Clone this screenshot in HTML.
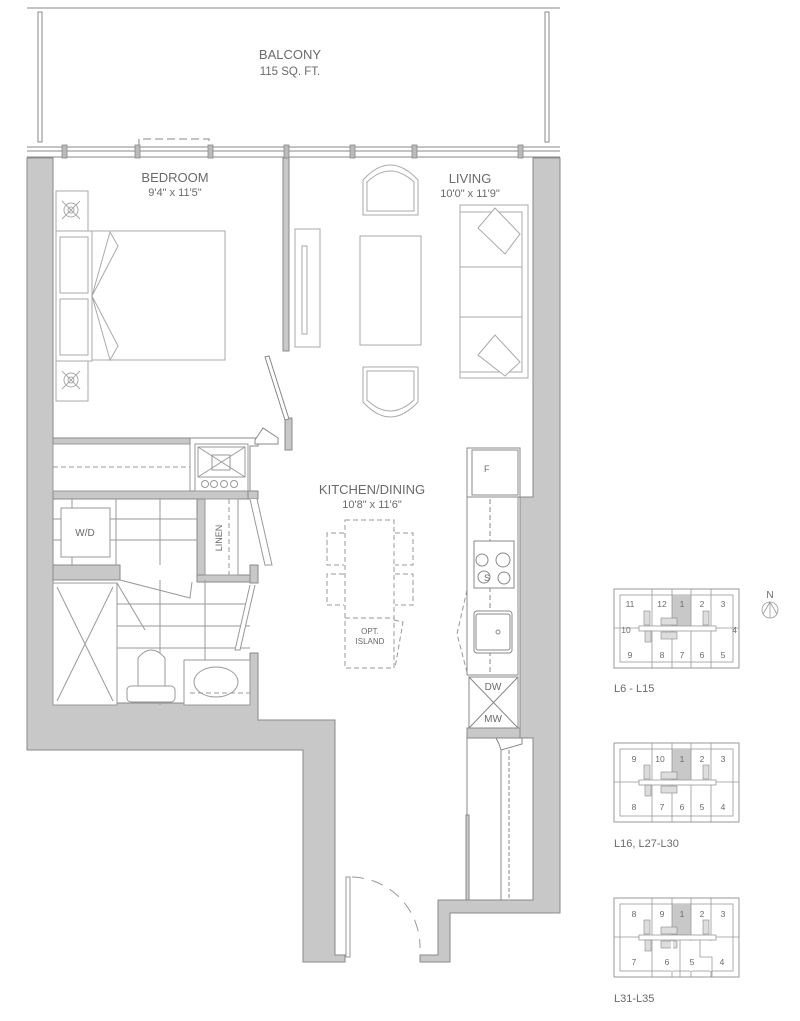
<!DOCTYPE html>
<html><head><meta charset="utf-8"><style>
html,body{margin:0;padding:0;background:#fff}
svg{display:block}
text{font-family:"Liberation Sans",sans-serif;fill:#6a6a6a}
</style></head><body>
<svg width="800" height="1021" viewBox="0 0 800 1021" xmlns="http://www.w3.org/2000/svg">
<defs>
<g id="kp">
 <rect x="0" y="0" width="125" height="79" fill="#fff" stroke="#999" stroke-width="1"/>
 <rect x="6" y="6" width="113" height="67" fill="none" stroke="#999" stroke-width="0.8"/>
 <rect x="58" y="6" width="19" height="31" fill="#c8c8c8"/>
 <g stroke="#999" stroke-width="0.8">
 <line x1="38" y1="0" x2="38" y2="79"/><line x1="58" y1="0" x2="58" y2="79"/>
 <line x1="77" y1="0" x2="77" y2="79"/><line x1="97" y1="0" x2="97" y2="79"/>
 <line x1="0" y1="39" x2="125" y2="39"/></g>
 <rect x="25" y="37" width="77" height="5" fill="#fff" stroke="#999" stroke-width="0.8"/>
 <rect x="30" y="22" width="6" height="14" fill="#ddd" stroke="#888" stroke-width="0.6"/>
 <rect x="31" y="42" width="6" height="11" fill="#ddd" stroke="#888" stroke-width="0.6"/>
 <rect x="47" y="29" width="16" height="7" fill="#ddd" stroke="#888" stroke-width="0.6"/>
 <rect x="47" y="43" width="16" height="7" fill="#ddd" stroke="#888" stroke-width="0.6"/>
 <rect x="89" y="22" width="6" height="14" fill="#ddd" stroke="#888" stroke-width="0.6"/>
</g>
</defs>

<g stroke="#8a8a8a" fill="none" stroke-width="1">
 <line x1="27" y1="8" x2="560" y2="8"/>
 <rect x="38" y="12" width="4" height="130"/>
 <rect x="545" y="12" width="4" height="130"/>
 <line x1="27" y1="147" x2="560" y2="147"/>
 <line x1="27" y1="151" x2="560" y2="151"/>
 <line x1="27" y1="157" x2="560" y2="157"/>
 <path d="M139 147 V139 H209 V147" stroke-dasharray="8 4"/>
</g>
<g fill="#bbb" stroke="#888" stroke-width="0.8">
 <rect x="62" y="145" width="5" height="13"/><rect x="135" y="145" width="5" height="13"/>
 <rect x="208" y="145" width="5" height="13"/><rect x="284" y="145" width="5" height="13"/>
 <rect x="350" y="145" width="5" height="13"/><rect x="412" y="145" width="5" height="13"/>
 <rect x="518" y="145" width="5" height="13"/>
</g>
<text x="290" y="59" font-size="13" text-anchor="middle">BALCONY</text>
<text x="290" y="75" font-size="11.5" text-anchor="middle">115 SQ. FT.</text>

<g fill="#c8c8c8" stroke="#8a8a8a" stroke-width="1">
 <path d="M27 158 H53 V703 H250 V653 H258 V720 H335 V955 H345 V962 H303 V750 H27 Z"/>
 <path d="M533 158 H560 V913 H450 V962 H420 V955 H438 V900 H533 V738 H520 V497 H533 Z"/>
 <rect x="283" y="158" width="6" height="193"/>
 <rect x="285" y="418" width="7" height="32"/>
 <path d="M53 438 H190 V444 H53 Z"/>
 <path d="M53 491 H258 V499 H53 Z"/>
 <path d="M190 438 H258 V446 H250 V491 H190 Z" fill="#fff"/>
 <rect x="197" y="499" width="8" height="78"/>
 <rect x="248" y="491" width="10" height="8"/>
 <path d="M53 565 H120 V580 H53 Z"/>
 <path d="M197 575 H258 V582 H197 Z"/>
 <rect x="250" y="565" width="8" height="18"/>
 <rect x="467" y="728" width="53" height="10"/>
</g>

<g stroke="#aaa" fill="#fff" stroke-width="1">
 <rect x="56" y="191" width="32" height="40"/>
 <rect x="56" y="361" width="32" height="40"/>
 <rect x="56" y="231" width="36" height="130"/>
 <rect x="60" y="237" width="28" height="56"/>
 <rect x="60" y="299" width="28" height="56"/>
 <rect x="92" y="231" width="133" height="129"/>
 <path d="M92 296 L110 232 L118 246 Z M92 296 L110 360 L118 346 Z" fill="none"/>
 <circle cx="71" cy="210" r="7" fill="none"/><circle cx="71" cy="210" r="3" fill="none"/>
 <circle cx="71" cy="380" r="7" fill="none"/><circle cx="71" cy="380" r="3" fill="none"/>
 <path d="M62 201 L80 219 M80 201 L62 219 M62 371 L80 389 M80 371 L62 389" fill="none"/>
</g>
<text x="175" y="182" font-size="13" text-anchor="middle">BEDROOM</text>
<text x="175" y="196" font-size="11" text-anchor="middle">9'4" x 11'5"</text>
<g stroke="#888" fill="none" stroke-width="1">
 <path d="M265 357 L285 420 L289 419 L269 356 Z" fill="#fff"/>
 <path d="M255 440 L263 428 L278 438 L278 444 L255 444 Z" fill="#fff"/>
</g>

<g stroke="#999" fill="none" stroke-width="1">
 <rect x="53" y="444" width="137" height="47"/>
 <line x1="53" y1="467" x2="190" y2="467" stroke-dasharray="5 3"/>
 <rect x="195" y="444" width="53" height="47"/>
 <rect x="198" y="447" width="47" height="30"/>
 <path d="M198 447 L245 477 M245 447 L198 477"/>
 <rect x="212" y="455" width="18" height="15"/>
 <circle cx="205" cy="484" r="3.5"/><circle cx="214" cy="484" r="3.5"/><circle cx="224" cy="484" r="3.5"/><circle cx="234" cy="484" r="3.5"/>
 <path d="M53 519 H197 M53 540 H197 M72 499 V565 M116 499 V565 M160 499 V565"/>
 <rect x="61" y="508" width="49" height="49" fill="#fff"/>
 <rect x="205" y="499" width="33" height="76"/>
 <line x1="229" y1="499" x2="229" y2="575" stroke-dasharray="5 3"/>
 <path d="M250 499 L265 565 L272 565 L257 499" fill="#fff"/>
 <path d="M120 580 L190 598 L192 582" />
 <path d="M117 604 H250 M117 626 H250 M117 648 H250 M160 580 V705 M205 580 V705"/>
 <rect x="53" y="583" width="64" height="122" fill="#fff"/>
 <path d="M57 587 L113 701 M113 587 L57 701"/>
 <path d="M117 583 L145 630"/>
 <path d="M250 585 L235 650 L240 650 L255 585" fill="#fff"/>
 <rect x="184" y="660" width="66" height="45" fill="#fff"/>
 <ellipse cx="216" cy="682" rx="22" ry="15"/>
 <line x1="190" y1="693" x2="250" y2="693" stroke-dasharray="5 3"/>
 <path d="M138 686 V658 Q151 642 165 658 V686 Z" fill="#fff"/>
 <rect x="127" y="686" width="48" height="16" rx="4" fill="#fff"/>
</g>
<text x="85" y="536" font-size="10" text-anchor="middle">W/D</text>
<text x="222" y="538" font-size="9" text-anchor="middle" transform="rotate(-90 222 538)">LINEN</text>

<g stroke="#aaa" fill="#fff" stroke-width="1">
 <rect x="295" y="229" width="25" height="118"/>
 <rect x="302" y="246" width="5" height="88"/>
 <rect x="360" y="236" width="61" height="109"/>
 <path d="M363 215 V180 Q390 150 418 180 V215 Z"/>
 <path d="M367 211 V182 Q390 160 414 182 V211 Z"/>
 <path d="M363 367 V402 Q390 432 418 402 V367 Z"/>
 <path d="M367 371 V400 Q390 422 414 400 V371 Z"/>
 <rect x="460" y="205" width="68" height="173"/>
 <path d="M460 212 H522 V372 H460 M460 267 H522 M460 317 H522" fill="none"/>
 <path d="M478 228 L495 208 L520 234 L505 254 Z M478 355 L495 335 L520 362 L505 376 Z"/>
</g>
<text x="470" y="183" font-size="13" text-anchor="middle">LIVING</text>
<text x="470" y="197" font-size="11" text-anchor="middle">10'0" x 11'9"</text>

<text x="372" y="494" font-size="13" text-anchor="middle">KITCHEN/DINING</text>
<text x="372" y="508" font-size="11" text-anchor="middle">10'8" x 11'6"</text>
<g stroke="#999" fill="none" stroke-width="1" stroke-dasharray="5 3">
 <rect x="345" y="520" width="49" height="148"/>
 <line x1="345" y1="618" x2="394" y2="618"/>
 <path d="M344 533 H327 V565 H344 M344 574 H327 V605 H344 M395 533 H413 V565 H395 M395 574 H413 V605 H395"/>
 <path d="M394 620 L403 622 L395 668"/>
 <path d="M467 590 L457 634 L467 672"/>
</g>
<text x="370" y="634" font-size="8" text-anchor="middle">OPT.</text>
<text x="370" y="644" font-size="8" text-anchor="middle">ISLAND</text>
<g stroke="#888" fill="#fff" stroke-width="1">
 <rect x="467" y="448" width="53" height="49"/>
 <rect x="472" y="450" width="46" height="45"/>
 <rect x="467" y="497" width="51" height="178"/>
 <line x1="490" y1="499" x2="490" y2="675" stroke-dasharray="5 3" fill="none"/>
 <rect x="474" y="541" width="40" height="47"/>
 <circle cx="482" cy="560" r="6" fill="none"/><circle cx="503" cy="560" r="7" fill="none"/>
 <circle cx="484" cy="577" r="6" fill="none"/><circle cx="504" cy="578" r="6" fill="none"/>
 <rect x="474" y="611" width="38" height="42" rx="3"/>
 <rect x="476" y="614" width="34" height="36" rx="2" fill="none"/>
 <circle cx="498" cy="632" r="2" fill="none"/>
 <rect x="469" y="677" width="49" height="51"/>
 <path d="M469 677 L518 728 M518 677 L469 728" fill="none"/>
 <rect x="467" y="738" width="66" height="162" fill="none"/>
 <line x1="501" y1="738" x2="501" y2="900" fill="none"/>
 <line x1="509" y1="750" x2="509" y2="900" stroke-dasharray="4 2" fill="none"/>
 <path d="M496 738 H522 V744 L501 750 L499 744 Z"/>
 <rect x="466" y="815" width="3" height="85" fill="#ccc"/>
</g>
<text x="484" y="472" font-size="9">F</text>
<text x="484" y="581" font-size="9">S</text>
<text x="493" y="690" font-size="10" text-anchor="middle">DW</text>
<text x="493" y="722" font-size="10" text-anchor="middle">MW</text>

<g stroke="#999" fill="none" stroke-width="1">
 <rect x="346" y="877" width="4" height="80" fill="#fff"/>
 <path d="M352 877 A70 70 0 0 1 420 948" stroke-dasharray="12 8"/>
</g>

<use href="#kp" x="614" y="589"/>
<use href="#kp" x="614" y="743"/>
<use href="#kp" x="614" y="898"/>
<g stroke="#fff" stroke-width="2">
 <line x1="672" y1="941" x2="672" y2="971"/>
 <line x1="691" y1="941" x2="691" y2="971"/>
 <line x1="711" y1="941" x2="711" y2="971"/>
</g>
<path d="M680 940 V977 M700 940 V957 H712 V977" stroke="#999" fill="none" stroke-width="0.8"/>
<g font-size="8.5" text-anchor="middle">
 <text x="630" y="607">11</text><text x="662" y="607">12</text><text x="682" y="607">1</text><text x="702" y="607">2</text><text x="723" y="607">3</text>
 <text x="626" y="633">10</text><text x="737" y="633" text-anchor="end">4</text>
 <text x="630" y="658">9</text><text x="662" y="658">8</text><text x="682" y="658">7</text><text x="702" y="658">6</text><text x="723" y="658">5</text>
 <text x="634" y="762">9</text><text x="660" y="762">10</text><text x="682" y="762">1</text><text x="702" y="762">2</text><text x="723" y="762">3</text>
 <text x="634" y="810">8</text><text x="662" y="810">7</text><text x="682" y="810">6</text><text x="702" y="810">5</text><text x="723" y="810">4</text>
 <text x="634" y="917">8</text><text x="662" y="917">9</text><text x="682" y="917">1</text><text x="702" y="917">2</text><text x="723" y="917">3</text>
 <text x="634" y="965">7</text><text x="667" y="965">6</text><text x="692" y="965">5</text><text x="722" y="965">4</text>
</g>
<g font-size="11">
 <text x="614" y="692">L6 - L15</text>
 <text x="614" y="847">L16, L27-L30</text>
 <text x="614" y="1002">L31-L35</text>
</g>
<text x="770" y="598" font-size="10" text-anchor="middle">N</text>
<g stroke="#999" fill="none" stroke-width="0.8">
 <circle cx="770" cy="610" r="8"/>
 <path d="M770 602 V618 M770 602 L763 614 M770 602 L777 614"/>
</g>
</svg>
</body></html>
